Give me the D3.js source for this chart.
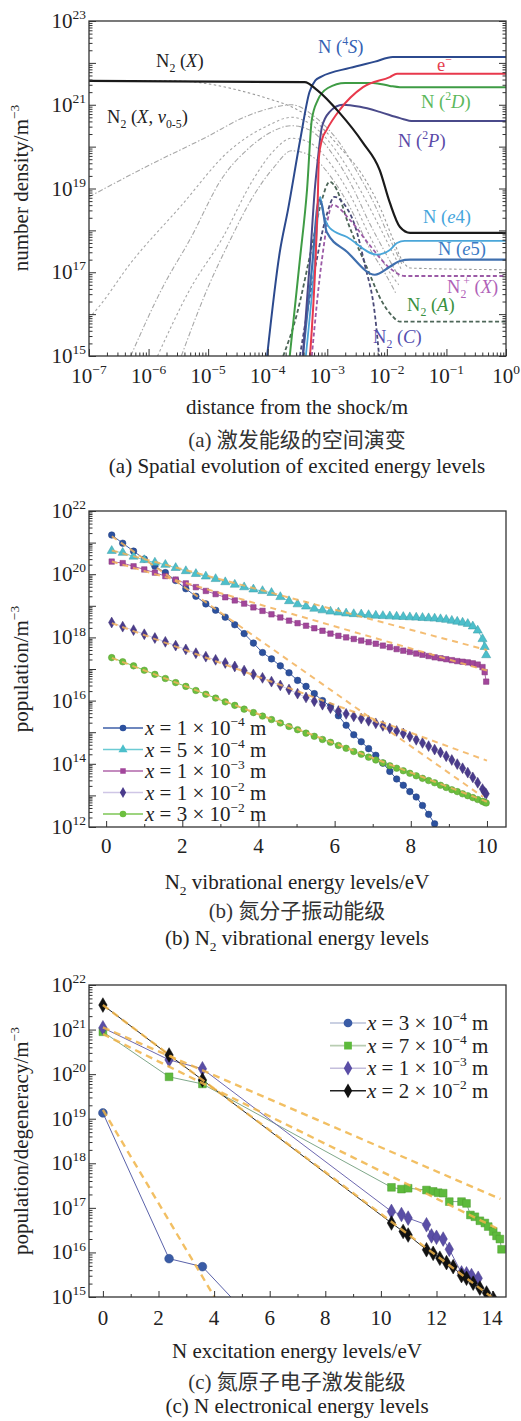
<!DOCTYPE html>
<html><head><meta charset="utf-8">
<script src="https://cdnjs.cloudflare.com/ajax/libs/d3/7.8.5/d3.min.js"></script>
<style>
body{margin:0;background:#fff}
svg{display:block}
</style>
</head><body>
<script>
// ================= DATA =================
// ---- panel (a): [log10 distance (m), log10 number density (m^-3)] ----
const n2X  = [[-7,21.57],[-3.38,21.54],[-3.17,21.35],[-2.79,20.80],[-2.40,20.09],[-2.12,19.44],[-1.95,18.66],[-1.78,18.08],[-1.61,17.94],[0,17.94]];
const n4S  = [[-4.01,15.0],[-3.80,17.46],[-3.66,18.49],[-3.45,20.2],[-3.30,21.3],[-3.20,21.58],[-3.10,21.67],[-2.62,21.88],[-2.20,22.03],[-1.90,22.14],[0,22.14]];
const eMinus = [[-3.29,15.0],[-3.19,17.53],[-3.16,18.73],[-3.14,19.75],[-3.09,20.16],[-3.01,20.40],[-2.79,20.88],[-2.40,21.42],[-1.95,21.66],[-1.83,21.74],[0,21.74]];
const n2D  = [[-3.63,15.0],[-3.46,17.3],[-3.34,18.97],[-3.26,20.64],[-3.16,21.11],[-2.99,21.40],[-2.70,21.52],[-2.23,21.52],[-1.95,21.45],[-1.78,21.42],[0,21.42]];
const n2P  = [[-3.41,15.0],[-3.29,17.3],[-3.21,18.97],[-3.16,19.68],[-3.09,20.47],[-2.96,20.83],[-2.74,21.0],[-2.45,20.95],[-2.12,20.83],[-1.78,20.68],[-1.56,20.61],[0,20.61]];
const nE4  = [[-3.36,15.0],[-3.22,17.06],[-3.12,18.80],[-3.07,18.42],[-2.96,18.06],[-2.67,17.84],[-2.17,17.42],[-1.95,17.53],[-1.83,17.70],[-1.70,17.75],[0,17.75]];
const nE5  = [[-3.41,15.0],[-3.26,17.06],[-3.14,18.73],[-3.09,18.61],[-3.01,17.96],[-2.67,17.49],[-2.20,16.94],[-1.95,17.13],[-1.78,17.27],[-1.61,17.30],[0,17.30]];
const n2plusX = [[-3.26,15.0],[-3.09,17.30],[-2.91,18.61],[-2.62,18.25],[-2.29,17.65],[-1.95,17.10],[-1.70,16.91],[0,16.91]];
const n2A  = [[-3.74,15.0],[-3.51,16.0],[-3.29,17.4],[-3.09,18.73],[-2.96,19.16],[-2.84,18.97],[-2.67,18.25],[-2.34,17.13],[-2.07,16.27],[-1.90,15.94],[-1.78,15.82],[0,15.82]];
const n2C  = [[-3.46,15.0],[-3.21,17.06],[-3.01,18.37],[-2.88,18.80],[-2.71,18.61],[-2.54,18.13],[-2.37,17.18],[-2.20,15.98],[-2.13,15.0]];
const n2Xv0 = [[-7,21.57],[-5.6,21.57],[-5.0,21.5],[-4.5,21.35],[-4.0,21.15],[-3.6,20.95],[-3.2,20.6],[-2.8,20.0],[-2.4,19.3],[-2.1,18.5],[-1.9,17.8],[-1.75,17.3],[-1.6,17.1],[0,17.06]];
const n2Xv1 = [[-7,18.8],[-6,19.55],[-5,20.25],[-4.4,20.7],[-4,20.9],[-3.6,21.0],[-3.2,20.7],[-2.8,20.1],[-2.5,19.4],[-2.2,18.6],[-1.95,17.8],[-1.75,17.2]];
const n2Xv2 = [[-7,15.9],[-6.82,16.2],[-6.31,17.2],[-5.47,18.56],[-4.63,19.92],[-4.0,20.5],[-3.6,20.7],[-3.2,20.45],[-2.8,19.8],[-2.5,19.1],[-2.2,18.3],[-1.95,17.6],[-1.75,17.05]];
const n2Xv3 = [[-6.30,15.0],[-5.76,16.65],[-5.31,17.77],[-4.75,19.28],[-4.35,19.92],[-4.0,20.3],[-3.6,20.5],[-3.3,20.4],[-2.9,19.8],[-2.6,19.1],[-2.3,18.2],[-2.0,17.4],[-1.8,16.9]];
const n2Xv4 = [[-5.85,15.0],[-5.31,16.58],[-4.75,17.84],[-4.25,19.2],[-3.9,19.9],[-3.6,20.2],[-3.3,20.1],[-2.9,19.5],[-2.6,18.8],[-2.3,17.9],[-2.0,17.1],[-1.8,16.7]];
const n2Xv5 = [[-5.45,15.0],[-5.02,16.58],[-4.63,17.77],[-4.25,18.8],[-3.9,19.5],[-3.6,19.9],[-3.3,19.8],[-2.9,19.2],[-2.6,18.5],[-2.3,17.6],[-2.0,16.9],[-1.85,16.5]];
const aXTickExps = [-7,-6,-5,-4,-3,-2,-1,0];
const aYLabelExps = [23,21,19,17,15];

// ---- panel (b): vibrational levels (eV) and log10 populations ----
const vibLevelsEV = [0.146,0.435,0.720,1.002,1.280,1.555,1.826,2.093,2.357,2.618,2.875,3.128,3.378,3.624,3.867,4.106,4.342,4.574,4.802,5.027,5.249,5.466,5.681,5.891,6.099,6.302,6.502,6.699,6.892,7.081,7.267,7.449,7.628,7.803,7.975,8.143,8.307,8.468,8.626,8.780,8.930,9.077,9.220,9.360,9.496,9.628,9.757,9.883,9.94,9.98];
const popX1e4 = [21.24,20.98,20.73,20.48,20.25,20.05,19.80,19.54,19.30,19.06,18.86,18.64,18.40,18.12,17.82,17.52,17.32,17.10,16.88,16.64,16.45,16.22,16.00,15.82,15.52,15.22,14.92,14.70,14.48,14.27,14.02,13.76,13.52,13.32,13.12,12.95,12.68,12.40,12.10,11.80];
const popX5e4 = [20.74,20.68,20.56,20.45,20.37,20.30,20.20,20.10,20.01,19.93,19.85,19.75,19.67,19.59,19.52,19.47,19.41,19.28,19.15,19.05,18.98,18.91,18.86,18.82,18.79,18.76,18.74,18.73,18.71,18.69,18.68,18.67,18.66,18.65,18.64,18.63,18.62,18.61,18.60,18.58,18.56,18.53,18.50,18.47,18.43,18.35,18.22,17.95,17.70,17.44];
const popX1e3 = [20.40,20.35,20.25,20.15,20.05,19.94,19.83,19.71,19.59,19.47,19.37,19.27,19.17,19.07,18.95,18.84,18.73,18.63,18.53,18.45,18.37,18.29,18.21,18.12,18.05,18.00,17.95,17.90,17.85,17.80,17.74,17.69,17.63,17.58,17.54,17.49,17.45,17.41,17.37,17.34,17.31,17.28,17.25,17.23,17.21,17.18,17.14,17.06,16.90,16.60];
const popX1e2 = [18.47,18.34,18.23,18.10,17.98,17.86,17.74,17.62,17.50,17.39,17.29,17.19,17.08,16.95,16.83,16.72,16.60,16.48,16.35,16.22,16.10,15.98,15.87,15.76,15.67,15.58,15.50,15.43,15.36,15.28,15.20,15.12,15.04,14.96,14.86,14.76,14.66,14.56,14.45,14.36,14.24,14.12,13.99,13.86,13.72,13.57,13.40,13.20,13.10,13.05];
const popX3e2 = [17.36,17.23,17.10,16.96,16.83,16.70,16.57,16.45,16.32,16.20,16.08,15.96,15.85,15.73,15.62,15.51,15.40,15.29,15.18,15.08,14.97,14.87,14.77,14.68,14.58,14.49,14.39,14.30,14.21,14.12,14.03,13.94,13.86,13.78,13.70,13.62,13.54,13.47,13.40,13.32,13.25,13.18,13.12,13.05,12.99,12.93,12.87,12.81,12.78,12.76];
// Boltzmann fits: [E0, log10 n0, E1, log10 n1]
const fitX1e4 = [0.15,21.2,9.9,12.95];
const fitX5e4 = [0.15,20.75,10.0,17.6];
const fitX1e3 = [0.15,20.4,10.0,16.95];
const fitX1e2 = [0.15,18.45,10.0,14.1];
const fitX3e2 = [0.15,17.35,10.0,12.8];
const bLegendLabels = [["1","−4"],["5","−4"],["1","−3"],["1","−2"],["3","−2"]];
const bXTicks = [0,2,4,6,8,10];
const bYLabelExps = [22,20,18,16,14,12];

// ---- panel (c): N excitation levels (eV) and log10 population/degeneracy ----
const levelsC1 = [0,2.38,3.58,10.33];
const popC1    = [19.13,15.86,15.68,11.2];
const levelsC2 = [0,2.38,3.58,10.38,10.74,10.98,11.64,11.88,12.06,12.24,12.46,12.9,13.08,13.22,13.38,13.56,13.74,13.86,14.04,14.16,14.28,14.34];
const popC2    = [20.95,19.94,19.78,17.46,17.42,17.44,17.40,17.37,17.34,17.33,17.14,17.14,17.10,16.84,16.80,16.71,16.66,16.58,16.47,16.37,16.30,16.07];
const levelsC3 = [0,2.38,3.58,10.38,10.74,10.98,11.64,11.82,12.0,12.24,12.46,12.9,13.08,13.26,13.5];
const popC3    = [21.04,20.32,20.12,16.92,16.85,16.77,16.62,16.37,16.34,16.30,16.07,15.54,15.52,15.48,15.42];
const levelsC4 = [0,2.38,3.58,10.38,10.8,10.98,11.64,11.88,12.12,12.36,12.6,12.9,13.08,13.32,13.56,13.8,14.04];
const popC4    = [21.55,20.43,19.87,16.66,16.47,16.39,16.06,15.98,15.87,15.77,15.68,15.48,15.42,15.31,15.20,15.09,14.97];
const fitC1 = [0,19.2,4.3,14.7];
const fitC2 = [0,20.9,14.3,16.5];
const fitC3 = [0,21.05,14.3,17.2];
const fitC4 = [0,21.55,14.3,14.85];
const cLegendLabels = [["3","−4"],["7","−4"],["1","−3"],["2","−2"]];
const cXTicks = [0,2,4,6,8,10,12,14];
const cYLabelExps = [22,21,20,19,18,17,16,15];

// ================= DRAW =================
const SERIF = "'Liberation Serif', 'DejaVu Serif', serif";
const svg = d3.select("body").append("svg").attr("width",521).attr("height",1421)
  .attr("font-family", SERIF).style("font-family", SERIF);
const FS = 21;

function T(){ return svg.append("text").attr("font-family",SERIF).style("font-family",SERIF).style("fill","#222"); }

function rich(sel, parts, base){
  let shift = 0;
  parts.forEach(p=>{
    const o = (typeof p === "string") ? {t:p} : p;
    const ts = sel.append("tspan").text(o.t);
    let target = 0;
    if (o.sub){ target = base*0.28; ts.attr("font-size", base*0.64); }
    if (o.sup){ target = -base*0.42; ts.attr("font-size", base*0.64); }
    if (o.i) ts.attr("font-style","italic");
    if (o.f) ts.style("font-family", o.f);
    if (o.dx) ts.attr("dx", o.dx);
    if (target !== shift){ ts.attr("dy", target-shift); shift = target; }
  });
  return sel;
}
function pow10Label(sel, e){ return rich(sel, ["10", {t: e<0 ? "−"+(-e) : String(e), sup:true}], FS); }

function frame(x0,x1,y0,y1){
  svg.append("rect").attr("x",x0).attr("y",y0).attr("width",x1-x0).attr("height",y1-y0)
    .attr("fill","none").attr("stroke","#333").attr("stroke-width",1.3);
}
function clip(id,x0,x1,y0,y1){
  svg.append("clipPath").attr("id",id).append("rect").attr("x",x0).attr("y",y0).attr("width",x1-x0).attr("height",y1-y0);
}
function logTicks(e0,e1){
  const maj = d3.range(e0,e1+1).map(e=>Math.pow(10,e));
  const min = [];
  for (let e=e0;e<e1;e++) for (let k=2;k<=9;k++) min.push(k*Math.pow(10,e));
  return {maj,min};
}
function drawAxis(gen, tx, ty, vals, size){
  const g = svg.append("g").attr("transform",`translate(${tx},${ty})`)
    .call(gen.tickValues(vals).tickSize(size).tickFormat(""));
  g.select(".domain").remove();
  g.selectAll("line").attr("stroke","#333").attr("stroke-width",1);
}

// ---------- Panel (a) ----------
const ax0=89, ax1=506, ay0=21, ay1=356;
const xA = d3.scaleLog().domain([1e-7,1]).range([ax0,ax1]);
const yA = d3.scaleLog().domain([1e15,1e23]).range([ay1,ay0]);
clip("ca",ax0,ax1,ay0,ay1);
const lineA = d3.line().x(d=>xA(Math.pow(10,d[0]))).y(d=>yA(Math.pow(10,d[1]))).curve(d3.curveMonotoneX);
const gA = svg.append("g").attr("clip-path","url(#ca)");
[n2Xv0,n2Xv1,n2Xv2,n2Xv3,n2Xv4,n2Xv5].forEach((s,i)=>{
  gA.append("path").attr("d",lineA(s)).attr("fill","none")
    .attr("stroke", i===0 ? "#9a9a9a" : "#a8a8a8").attr("stroke-width",1.1)
    .attr("stroke-dasharray", i%2 ? "5,2,1.5,2" : "2.5,2.5");
});
const aSeries = [
  {d:n2A, c:"#4d6658", w:1.8, dash:"4,2.5"},
  {d:n2C, c:"#4a4a78", w:1.8, dash:"4,2.5"},
  {d:n2plusX, c:"#9b5aa6", w:1.8, dash:"4,2.5"},
  {d:nE4, c:"#4aa6d9", w:1.8},
  {d:nE5, c:"#3f6fae", w:2.2},
  {d:n2P, c:"#4a4a8a", w:2},
  {d:n2D, c:"#3f9c45", w:2},
  {d:eMinus, c:"#e8394c", w:2},
  {d:n4S, c:"#2c4a8e", w:2},
  {d:n2X, c:"#1a1a1a", w:2.2}
];
aSeries.forEach(s=>{
  gA.append("path").attr("d",lineA(s.d)).attr("fill","none").attr("stroke",s.c)
    .attr("stroke-width",s.w).attr("stroke-dasharray",s.dash||null);
});
frame(ax0,ax1,ay0,ay1);
{
  const t = logTicks(15,23);
  drawAxis(d3.axisLeft(yA), ax0,0, t.maj, -7);
  drawAxis(d3.axisLeft(yA), ax0,0, t.min, -3.5);
  drawAxis(d3.axisRight(yA), ax1,0, t.maj, -7);
  drawAxis(d3.axisRight(yA), ax1,0, t.min, -3.5);
  const tx = logTicks(-7,0);
  drawAxis(d3.axisBottom(xA), 0,ay1, tx.maj, -7);
  drawAxis(d3.axisBottom(xA), 0,ay1, tx.min, -3.5);
}
aYLabelExps.forEach(e=>{
  pow10Label(T().attr("x",86).attr("y",yA(Math.pow(10,e))+7).attr("text-anchor","end").attr("font-size",FS), e);
});
aXTickExps.forEach(e=>{
  pow10Label(T().attr("x",xA(Math.pow(10,e))).attr("y",383).attr("text-anchor","middle").attr("font-size",FS), e);
});
// curve labels
const LS = 18.5;
function lab(x,y,color,parts){ rich(T().attr("x",x).attr("y",y).attr("font-size",LS).style("fill",color), parts, LS); }
lab(156,67,"#222",["N",{t:"2",sub:true}," (",{t:"X",i:true},")"]);
lab(107,123,"#222",["N",{t:"2",sub:true}," (",{t:"X",i:true},", ",{t:"v",i:true},{t:"0-5",sub:true},")"]);
lab(318,53,"#3461b3",["N (",{t:"4",sup:true},{t:"S",i:true},")"]);
lab(437,71,"#e5404f",["e",{t:"−",sup:true}]);
lab(421,108,"#5cb85c",["N (",{t:"2",sup:true},{t:"D",i:true},")"]);
lab(398,147,"#5a4aa8",["N (",{t:"2",sup:true},{t:"P",i:true},")"]);
lab(423,223,"#45a5dc",["N (",{t:"e",i:true},"4)"]);
lab(438,255,"#3a7ac4",["N (",{t:"e",i:true},"5)"]);
lab(447,293,"#b062b8",["N",{t:"2",sub:true},{t:"+",sup:true,dx:-3}," (",{t:"X",i:true},")"]);
lab(407,311,"#3a9040",["N",{t:"2",sub:true}," (",{t:"A",i:true},")"]);
lab(373,343,"#5550b0",["N",{t:"2",sub:true}," (",{t:"C",i:true},")"]);
// titles
rich(T().attr("transform","translate(28,188) rotate(-90)").attr("text-anchor","middle").attr("font-size",FS),["number density/m",{t:"−3",sup:true}],FS);
T().attr("x",297).attr("y",414).attr("text-anchor","middle").attr("font-size",FS).text("distance from the shock/m");
rich(T().attr("x",297).attr("y",447).attr("text-anchor","middle").attr("font-size",FS).style("fill","#333"),["(a) ",{t:"激发能级的空间演变",f:"Noto Sans CJK SC"}],FS);
T().attr("x",297).attr("y",473).attr("text-anchor","middle").attr("font-size",FS).text("(a) Spatial evolution of excited energy levels");

// ---------- Panel (b) ----------
const bx0=89, bx1=506, by0=511, by1=827;
const xB = d3.scaleLinear().domain([-0.45,10.5]).range([bx0,bx1]);
const yB = d3.scaleLog().domain([1e12,1e22]).range([by1,by0]);
clip("cb",bx0,bx1,by0,by1);
const gB = svg.append("g").attr("clip-path","url(#cb)");
const bSeries = [
  {v:popX1e4, fit:fitX1e4, c:"#2c519e", lc:"#3e5fa8", sym:d3.symbolCircle, sz:34},
  {v:popX5e4, fit:fitX5e4, c:"#4cbfcb", lc:"#6ccbd4", sym:d3.symbolTriangle, sz:36},
  {v:popX1e3, fit:fitX1e3, c:"#a2469b", lc:"#b066aa", sym:d3.symbolSquare, sz:30},
  {v:popX1e2, fit:fitX1e2, c:"#4a3b8c", lc:"#cfc6e6", sym:d3.symbolDiamond, sz:34},
  {v:popX3e2, fit:fitX3e2, c:"#6cbf3e", lc:"#7cc655", sym:d3.symbolCircle, sz:34}
];
const lineB = d3.line().x(d=>xB(d[0])).y(d=>yB(Math.pow(10,d[1])));
bSeries.forEach(s=>{
  const pts = s.v.map((y,i)=>[vibLevelsEV[i], y]);
  gB.append("path").attr("d",lineB(pts)).attr("fill","none").attr("stroke",s.lc).attr("stroke-width",1);
  gB.selectAll(null).data(pts).enter().append("path")
    .attr("d",d3.symbol().type(s.sym).size(s.sz))
    .attr("transform",d=>`translate(${xB(d[0])},${yB(Math.pow(10,d[1]))})`)
    .attr("fill",s.c).attr("stroke",d3.color(s.c).darker(0.6)).attr("stroke-width",0.5);
});
bSeries.forEach(s=>{
  const f = s.fit;
  gB.append("path").attr("d",lineB([[f[0],f[1]],[f[2],f[3]]])).attr("fill","none")
    .attr("stroke","#f2b25a").attr("stroke-width",2).attr("stroke-dasharray","6,5").attr("opacity",0.85);
});
frame(bx0,bx1,by0,by1);
{
  const t = logTicks(12,22);
  drawAxis(d3.axisLeft(yB), bx0,0, t.maj, -7);
  drawAxis(d3.axisLeft(yB), bx0,0, t.min, -3.5);
  drawAxis(d3.axisBottom(xB), 0,by1, bXTicks, -6);
  drawAxis(d3.axisBottom(xB), 0,by1, [1,3,5,7,9], -3);
}
bYLabelExps.forEach(e=>{
  pow10Label(T().attr("x",86).attr("y",yB(Math.pow(10,e))+7).attr("text-anchor","end").attr("font-size",FS), e);
});
bXTicks.forEach(v=>{
  T().attr("x",xB(v)).attr("y",853).attr("text-anchor","middle").attr("font-size",FS).text(v);
});
// legend (b)
bSeries.forEach((s,i)=>{
  const yy = 728 + i*21.5;
  svg.append("line").attr("x1",103).attr("x2",143).attr("y1",yy).attr("y2",yy).attr("stroke",s.lc).attr("stroke-width",1.6);
  svg.append("path").attr("d",d3.symbol().type(s.sym).size(s.sz)).attr("transform",`translate(123,${yy})`).attr("fill",s.c);
  const L = bLegendLabels[i];
  rich(T().attr("x",145).attr("y",yy+7).attr("font-size",FS),
    [{t:"x",i:true}," = "+L[0]+" × 10",{t:L[1],sup:true}," m"],FS);
});
rich(T().attr("transform","translate(28,669) rotate(-90)").attr("text-anchor","middle").attr("font-size",FS),["population/m",{t:"−3",sup:true}],FS);
rich(T().attr("x",297).attr("y",889).attr("text-anchor","middle").attr("font-size",FS),["N",{t:"2",sub:true}," vibrational energy levels/eV"],FS);
rich(T().attr("x",297).attr("y",918).attr("text-anchor","middle").attr("font-size",FS).style("fill","#333"),["(b) ",{t:"氮分子振动能级",f:"Noto Sans CJK SC"}],FS);
rich(T().attr("x",297).attr("y",945).attr("text-anchor","middle").attr("font-size",FS),["(b) N",{t:"2",sub:true}," vibrational energy levels"],FS);

// ---------- Panel (c) ----------
const cx0=89, cx1=506, cy0=985, cy1=1297;
const xC = d3.scaleLinear().domain([-0.5,14.5]).range([cx0,cx1]);
const yC = d3.scaleLog().domain([1e15,1e22]).range([cy1,cy0]);
clip("cc",cx0,cx1,cy0,cy1);
const gC = svg.append("g").attr("clip-path","url(#cc)");
const lineC = d3.line().x(d=>xC(d[0])).y(d=>yC(Math.pow(10,d[1])));
const cSeries = [
  {e:levelsC1, v:popC1, fit:fitC1, c:"#3a5ca6", lc:"#5a62aa", llc:"#b9c0d8", sym:d3.symbolCircle, sz:60},
  {e:levelsC2, v:popC2, fit:fitC2, c:"#5dba3c", lc:"#7fa88a", llc:"#b9cdb2", sym:d3.symbolSquare, sz:60},
  {e:levelsC3, v:popC3, fit:fitC3, c:"#5a4ea6", lc:"#6d68b0", llc:"#c4bedc", sym:d3.symbolDiamond, sz:62},
  {e:levelsC4, v:popC4, fit:fitC4, c:"#111111", lc:"#222222", llc:"#222222", sym:d3.symbolDiamond, sz:62}
];
cSeries.forEach(s=>{
  const pts = s.v.map((y,i)=>[s.e[i], y]);
  gC.append("path").attr("d",lineC(pts)).attr("fill","none").attr("stroke",s.lc).attr("stroke-width",1);
});
cSeries.forEach(s=>{
  const pts = s.v.map((y,i)=>[s.e[i], y]);
  gC.selectAll(null).data(pts).enter().append("path")
    .attr("d",d3.symbol().type(s.sym).size(s.sz))
    .attr("transform",d=>`translate(${xC(d[0])},${yC(Math.pow(10,d[1]))})`)
    .attr("fill",s.c).attr("stroke",d3.color(s.c).darker(0.5)).attr("stroke-width",0.5);
});
cSeries.forEach(s=>{
  const f = s.fit;
  gC.append("path").attr("d",lineC([[f[0],f[1]],[f[2],f[3]]])).attr("fill","none")
    .attr("stroke","#f0b448").attr("stroke-width",2.4).attr("stroke-dasharray","7,5").attr("opacity",0.85);
});
frame(cx0,cx1,cy0,cy1);
{
  const t = logTicks(15,22);
  drawAxis(d3.axisLeft(yC), cx0,0, t.maj, -7);
  drawAxis(d3.axisLeft(yC), cx0,0, t.min, -3.5);
  drawAxis(d3.axisBottom(xC), 0,cy1, cXTicks, -6);
  drawAxis(d3.axisBottom(xC), 0,cy1, [1,3,5,7,9,11,13], -3);
}
cYLabelExps.forEach(e=>{
  pow10Label(T().attr("x",86).attr("y",yC(Math.pow(10,e))+7).attr("text-anchor","end").attr("font-size",FS), e);
});
cXTicks.forEach(v=>{
  T().attr("x",xC(v)).attr("y",1325).attr("text-anchor","middle").attr("font-size",FS).text(v);
});
cSeries.forEach((s,i)=>{
  const yy = 1023 + i*22.6;
  svg.append("line").attr("x1",330).attr("x2",366).attr("y1",yy).attr("y2",yy).attr("stroke",s.llc).attr("stroke-width",1.6);
  svg.append("path").attr("d",d3.symbol().type(s.sym).size(s.sz)).attr("transform",`translate(348,${yy})`).attr("fill",s.c);
  const L = cLegendLabels[i];
  rich(T().attr("x",367).attr("y",yy+7).attr("font-size",FS),
    [{t:"x",i:true}," = "+L[0]+" × 10",{t:L[1],sup:true}," m"],FS);
});
rich(T().attr("transform","translate(28,1141) rotate(-90)").attr("text-anchor","middle").attr("font-size",FS),["population/degeneracy/m",{t:"−3",sup:true}],FS);
T().attr("x",297).attr("y",1358).attr("text-anchor","middle").attr("font-size",FS).text("N excitation energy levels/eV");
rich(T().attr("x",297).attr("y",1389).attr("text-anchor","middle").attr("font-size",FS).style("fill","#333"),["(c) ",{t:"氮原子电子激发能级",f:"Noto Sans CJK SC"}],FS);
T().attr("x",297).attr("y",1413).attr("text-anchor","middle").attr("font-size",FS).text("(c) N electronical energy levels");
</script>
</body></html>
